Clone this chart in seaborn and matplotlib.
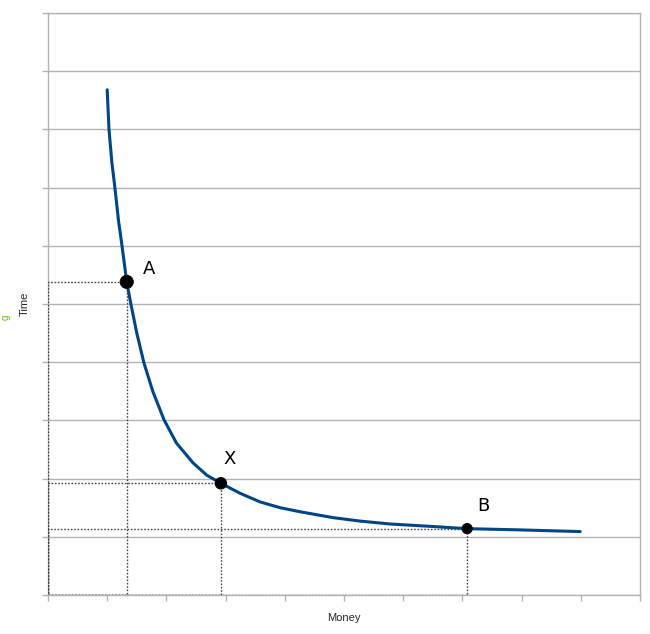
import matplotlib
matplotlib.use("Agg")
import matplotlib.pyplot as plt
import seaborn as sns
import pandas as pd

# Curve
curve_x = [1.00, 1.03, 1.08, 1.13, 1.19, 1.25, 1.33, 1.40, 1.50, 1.62, 1.77, 1.96,
           2.17, 2.45, 2.68, 2.92, 3.24, 3.58, 3.92, 4.26, 4.81, 5.27, 5.78, 6.45,
           7.08, 7.92, 8.99]
curve_y = [8.68, 8.00, 7.42, 7.00, 6.44, 6.00, 5.38, 5.00, 4.50, 3.99, 3.50, 3.01,
           2.61, 2.27, 2.06, 1.92, 1.75, 1.60, 1.50, 1.43, 1.33, 1.27, 1.22, 1.18,
           1.14, 1.12, 1.09]

# Marked points
point_names = ["A", "X", "B"]
point_x = [1.33, 2.92, 7.08]
point_y = [5.38, 1.92, 1.14]
point_sizes = [90, 70, 55]

x_label = "Money"
y_label = "Time"

sns.set_style("white")
fig = plt.figure(figsize=(6.5, 6.34), dpi=100)
ax = fig.add_axes([48/650, 1-595/634, (640-48)/650, (595-13)/634])

ax.set_xlim(0, 10)
ax.set_ylim(0, 10)

# gridlines
ax.set_yticks(range(0, 11))
ax.set_xticks(range(0, 11))
ax.yaxis.grid(True, color="#b3b3b3", linewidth=1)
ax.xaxis.grid(False)
ax.set_xticklabels([])
ax.set_yticklabels([])
ax.tick_params(axis="both", which="both", direction="out", color="#b3b3b3",
               length=4, width=1, bottom=True, left=True)
for s in ax.spines.values():
    s.set_color("#b3b3b3")
    s.set_linewidth(1)

# dotted rectangles from origin to each point
for px, py in zip(point_x, point_y):
    ax.plot([0, px, px, 0, 0], [0, 0, py, py, 0], linestyle=(0, (1.2, 1.2)),
            color="#444444", linewidth=1.0, zorder=3)

df_curve = pd.DataFrame({"x": curve_x, "y": curve_y})
sns.lineplot(data=df_curve, x="x", y="y", sort=False, color="#004586",
             linewidth=2.2, ax=ax, zorder=4)

df_pts = pd.DataFrame({"x": point_x, "y": point_y, "name": point_names, "s": point_sizes})
sns.scatterplot(data=df_pts, x="x", y="y", size="s", sizes=(min(point_sizes), max(point_sizes)),
                color="black", edgecolor="black", legend=False, ax=ax, zorder=5)

offsets = {"A": (0.28, 0.22), "X": (0.05, 0.41), "B": (0.17, 0.39)}
for n, px, py in zip(point_names, point_x, point_y):
    dx, dy = offsets[n]
    ax.text(px + dx, py + dy, n, fontsize=13, color="black", ha="left", va="center",
            family="DejaVu Sans")

ax.set_xlabel("")
ax.set_ylabel("")
fig.text(344/650, 1-618/634, x_label, ha="center", va="center", fontsize=8,
         family="Liberation Sans")
fig.text(25/650, 1-304/634, y_label, ha="center", va="center", fontsize=8,
         rotation=90, family="Liberation Sans")
fig.text(1/650, 1-317/634, "g", ha="left", va="center", fontsize=7, color="#66bb00",
         rotation=90, family="Liberation Sans")

fig.savefig("out.png", dpi=100, facecolor="white")
